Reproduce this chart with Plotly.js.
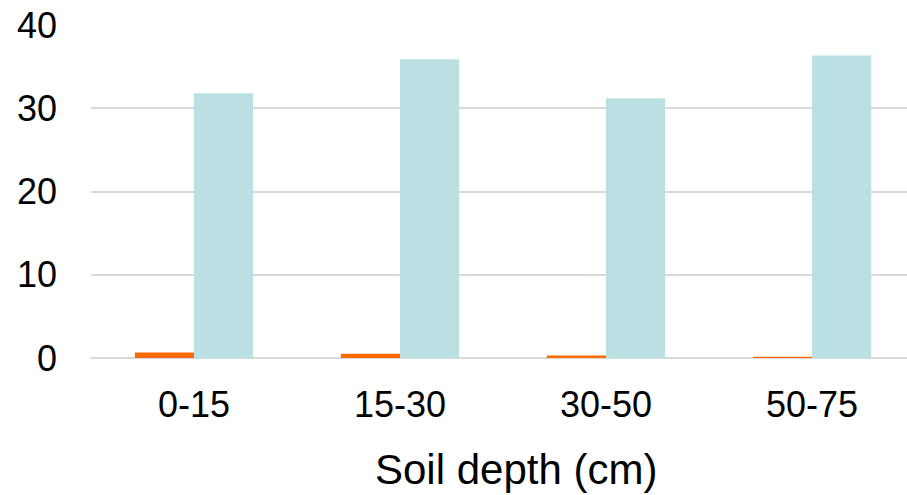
<!DOCTYPE html>
<html>
<head>
<meta charset="utf-8">
<script src="https://cdn.plot.ly/plotly-3.0.1.min.js"></script>
<style>html,body{margin:0;padding:0;background:#fff;}#chart{width:907px;height:495px;}</style>
</head>
<body>
<div id="chart"></div>
<script>
const categories = ["0-15", "15-30", "30-50", "50-75"];
const seriesOrange = [0.66, 0.5, 0.3, 0.15];
const seriesBlue = [31.8, 35.9, 31.2, 36.35];
const yTicks = [0, 10, 20, 30, 40];
const xTitle = "Soil depth (cm)";

const traces = [
  {type: "bar", x: categories, y: seriesOrange, marker: {color: "#FF6A00"}, hoverinfo: "none"},
  {type: "bar", x: categories, y: seriesBlue, marker: {color: "#BAE0E3"}, hoverinfo: "none"}
];

const layout = {
  width: 907, height: 495,
  margin: {l: 91, r: 0, t: 24.5, b: 136.5, pad: 0},
  paper_bgcolor: "#fff", plot_bgcolor: "#fff",
  showlegend: false,
  barmode: "group", bargap: 0.426, bargroupgap: 0,
  font: {family: "Liberation Sans, Arial, sans-serif", color: "#000"},
  xaxis: {
    type: "category", range: [-0.5, 3.461],
    showgrid: false, zeroline: false, showline: false,
    ticks: "", tickfont: {size: 36, color: "#000"},
    ticklabelstandoff: 22
  },
  yaxis: {
    range: [0, 40], tickvals: yTicks, ticktext: yTicks.map(String),
    showgrid: true, gridcolor: "#D9D9D9", gridwidth: 2,
    zeroline: true, zerolinecolor: "#D9D9D9", zerolinewidth: 2,
    showline: false, ticks: "", tickfont: {size: 36, color: "#000"},
    ticklabelstandoff: 33
  },
  annotations: [{
    text: xTitle, xref: "paper", yref: "paper",
    x: (516 - 91) / 816, y: (358.5 - 470) / 334,
    xanchor: "center", yanchor: "middle", showarrow: false,
    font: {size: 42, color: "#000"}
  }]
};

Plotly.newPlot("chart", traces, layout, {staticPlot: true, displayModeBar: false});
</script>
</body>
</html>
